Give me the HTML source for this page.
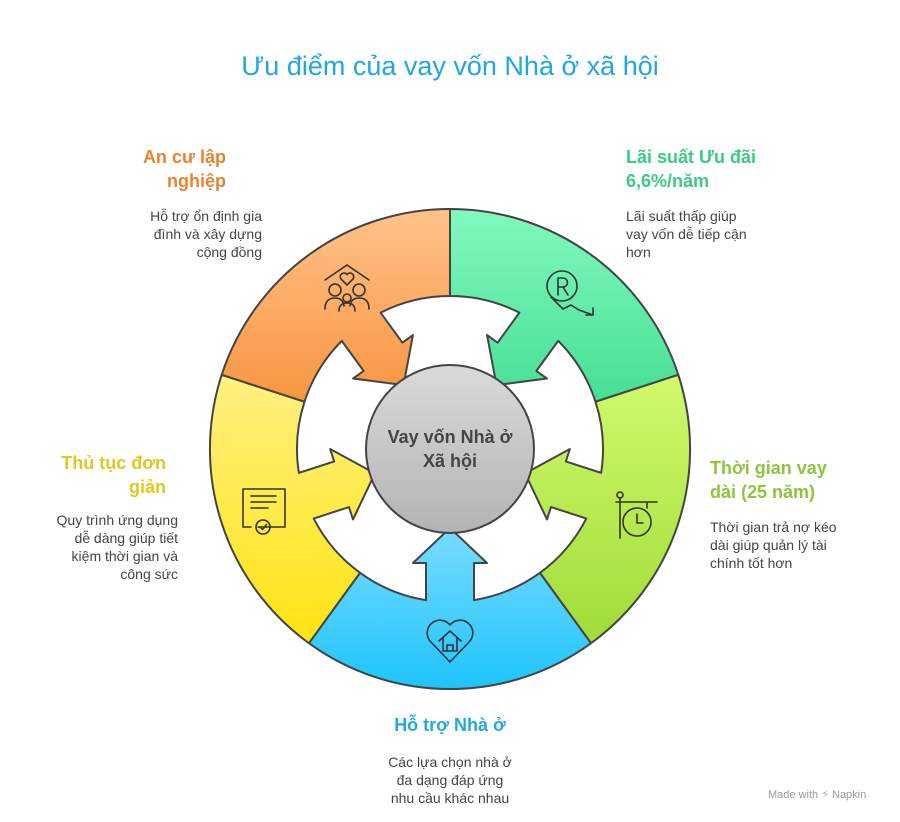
<!DOCTYPE html>
<html><head><meta charset="utf-8"><style>
html,body{margin:0;padding:0;background:#fff;}
body{width:900px;height:822px;position:relative;overflow:hidden;font-family:"Liberation Sans","DejaVu Sans",sans-serif;}
.t{position:absolute;font-weight:bold;font-size:18px;line-height:24px;}
.d{position:absolute;font-size:14px;line-height:18px;color:#444;}
</style></head><body>
<div style="position:absolute;left:0;width:900px;top:51px;text-align:center;font-size:27px;color:#1FA6E6;">Ưu điểm của vay vốn Nhà ở xã hội</div>

<svg width="900" height="822" style="position:absolute;left:0;top:0">
<defs>
<linearGradient id="gb" gradientUnits="userSpaceOnUse" x1="0" y1="-240" x2="0" y2="240"><stop offset="0.66" stop-color="#7ADCFF"/><stop offset="1" stop-color="#1EC4FB"/></linearGradient>
<linearGradient id="gy" gradientUnits="userSpaceOnUse" x1="0" y1="-240" x2="0" y2="240" gradientTransform="rotate(-72)"><stop offset="0.35" stop-color="#FFF080"/><stop offset="0.88" stop-color="#FFE418"/></linearGradient>
<linearGradient id="go" gradientUnits="userSpaceOnUse" x1="0" y1="-240" x2="0" y2="240" gradientTransform="rotate(-144)"><stop offset="0" stop-color="#FFC28A"/><stop offset="0.42" stop-color="#F8933D"/></linearGradient>
<linearGradient id="gg" gradientUnits="userSpaceOnUse" x1="0" y1="-240" x2="0" y2="240" gradientTransform="rotate(-216)"><stop offset="0" stop-color="#82F9BE"/><stop offset="0.45" stop-color="#3FDB8F"/></linearGradient>
<linearGradient id="gl" gradientUnits="userSpaceOnUse" x1="0" y1="-240" x2="0" y2="240" gradientTransform="rotate(-288)"><stop offset="0.35" stop-color="#D0F96C"/><stop offset="0.88" stop-color="#A2DD3A"/></linearGradient>
<linearGradient id="gc" x1="0" y1="0" x2="0" y2="1"><stop offset="0" stop-color="#DADADA"/><stop offset="1" stop-color="#B3B3B3"/></linearGradient>
<path id="seg" d="M141.1 194.2 A240 240 0 0 1 -141.1 194.2 L-89.9 123.8 A153 153 0 0 0 -24 151.1 L-24 114 L-37 114 L0 79 L37 114 L24 114 L24 151.1 A153 153 0 0 0 89.9 123.8 Z"/>
</defs>
<g transform="translate(450,449)" stroke="#444" stroke-width="2" stroke-linejoin="round">
<use href="#seg" fill="url(#gb)"/>
<use href="#seg" fill="url(#gy)" transform="rotate(72)"/>
<use href="#seg" fill="url(#go)" transform="rotate(144)"/>
<use href="#seg" fill="url(#gg)" transform="rotate(216)"/>
<use href="#seg" fill="url(#gl)" transform="rotate(288)"/>
<circle r="84" fill="url(#gc)"/>
</g>
<g fill="none" stroke="#333" stroke-width="1.6" stroke-linecap="round" stroke-linejoin="round">
<path d="M325 280 L347 265 L369 280"/>
<path d="M347 285 l-6 -6 a3.5 3.5 0 0 1 6 -4.5 a3.5 3.5 0 0 1 6 4.5 z"/>
<circle cx="335" cy="290" r="6"/><circle cx="359" cy="290" r="6"/><circle cx="347" cy="298" r="4"/>
<path d="M325 309 q0 -11 10 -11 q8 0 9 8"/><path d="M350 306 q1 -8 9 -8 q10 0 10 11"/><path d="M339 311 q0 -8 8 -8 q8 0 8 8"/>
<circle cx="562" cy="286" r="15"/>
<path d="M558 295 v-17 h5 a4.5 4.5 0 0 1 0 9 h-5 M563 287 l5 8"/>
<path d="M551 297 l12 12 l8 -4 l8 5 l14 5 M593 308 v7 h-7"/>
<circle cx="620" cy="495" r="3"/><path d="M620 498 v40 M616 502 h41 M647 502 v6"/>
<circle cx="637" cy="522" r="14"/><path d="M637 514 v9 h6"/>
<path d="M258 527 h27 v-38 h-42 v38 h8"/>
<path d="M251 496 h25 M251 502 h25 M251 508 h17"/>
<circle cx="263" cy="527" r="7"/><path d="M260 527 l2.5 2.5 l4 -5"/>
<path d="M450 662 l-20 -21 a10.5 10.5 0 0 1 20 -16 a10.5 10.5 0 0 1 20 16 z"/>
<path d="M439 641 l11 -10 l11 10 M443 638 v13 h14 v-13 M447 651 v-6 h6 v6"/>
</g>
</svg>

<div style="position:absolute;left:366px;top:425px;width:168px;text-align:center;font-weight:bold;font-size:18px;line-height:24px;color:#444;">Vay vốn Nhà ở<br>Xã hội</div>

<div class="t" style="right:674px;top:145px;text-align:right;color:#E8842C;">An cư lập<br>nghiệp</div>
<div class="d" style="right:638px;top:207px;text-align:right;">Hỗ trợ ổn định gia<br>đình và xây dựng<br>cộng đồng</div>

<div class="t" style="left:626px;top:145px;color:#3CCB80;">Lãi suất Ưu đãi<br>6,6%/năm</div>
<div class="d" style="left:626px;top:207px;">Lãi suất thấp giúp<br>vay vốn dễ tiếp cận<br>hơn</div>

<div class="t" style="left:710px;top:456px;color:#8DC53C;">Thời gian vay<br>dài (25 năm)</div>
<div class="d" style="left:710px;top:518px;">Thời gian trả nợ kéo<br>dài giúp quản lý tài<br>chính tốt hơn</div>

<div class="t" style="right:734px;top:451px;text-align:right;color:#E0C81C;">Thủ tục đơn<br>giản</div>
<div class="d" style="right:722px;top:511px;text-align:right;">Quy trình ứng dụng<br>dễ dàng giúp tiết<br>kiệm thời gian và<br>công sức</div>

<div class="t" style="left:300px;width:300px;top:713px;text-align:center;color:#22A8E0;">Hỗ trợ Nhà ở</div>
<div class="d" style="left:300px;width:300px;top:753px;text-align:center;">Các lựa chọn nhà ở<br>đa dạng đáp ứng<br>nhu cầu khác nhau</div>

<div style="position:absolute;left:768px;top:788px;font-size:11px;color:#999;">Made with <span style="color:#aaa">⚡</span> Napkin</div>
</body></html>
